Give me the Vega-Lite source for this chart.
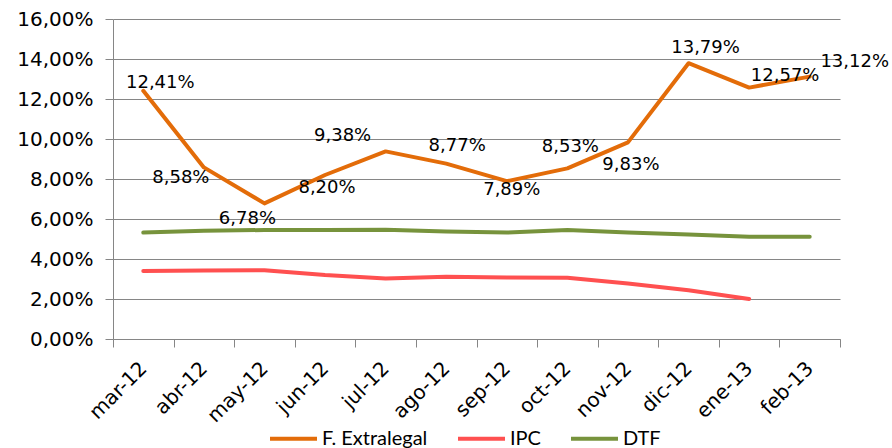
{
  "$schema": "https://vega.github.io/schema/vega-lite/v6.json",
  "width": 727,
  "height": 320,
  "autosize": {"type": "none"},
  "padding": {"left": 113, "top": 19, "right": 52, "bottom": 109},
  "background": "white",
  "config": {
    "locale": {"number": {"decimal": ",", "thousands": ".", "grouping": [3], "currency": ["$", ""]}},
    "view": {"stroke": null},
    "font": "DejaVu Sans"
  },
  "data": {
    "values": [
      {"month": "mar-12", "series": "F. Extralegal", "value": 0.1241},
      {"month": "abr-12", "series": "F. Extralegal", "value": 0.0858},
      {"month": "may-12", "series": "F. Extralegal", "value": 0.0678},
      {"month": "jun-12", "series": "F. Extralegal", "value": 0.0820},
      {"month": "jul-12", "series": "F. Extralegal", "value": 0.0938},
      {"month": "ago-12", "series": "F. Extralegal", "value": 0.0877},
      {"month": "sep-12", "series": "F. Extralegal", "value": 0.0789},
      {"month": "oct-12", "series": "F. Extralegal", "value": 0.0853},
      {"month": "nov-12", "series": "F. Extralegal", "value": 0.0983},
      {"month": "dic-12", "series": "F. Extralegal", "value": 0.1379},
      {"month": "ene-13", "series": "F. Extralegal", "value": 0.1257},
      {"month": "feb-13", "series": "F. Extralegal", "value": 0.1312},
      {"month": "mar-12", "series": "IPC", "value": 0.0340},
      {"month": "abr-12", "series": "IPC", "value": 0.0343},
      {"month": "may-12", "series": "IPC", "value": 0.0344},
      {"month": "jun-12", "series": "IPC", "value": 0.0320},
      {"month": "jul-12", "series": "IPC", "value": 0.0303},
      {"month": "ago-12", "series": "IPC", "value": 0.0311},
      {"month": "sep-12", "series": "IPC", "value": 0.0308},
      {"month": "oct-12", "series": "IPC", "value": 0.0306},
      {"month": "nov-12", "series": "IPC", "value": 0.0277},
      {"month": "dic-12", "series": "IPC", "value": 0.0244},
      {"month": "ene-13", "series": "IPC", "value": 0.0200},
      {"month": "mar-12", "series": "DTF", "value": 0.0532},
      {"month": "abr-12", "series": "DTF", "value": 0.0541},
      {"month": "may-12", "series": "DTF", "value": 0.0545},
      {"month": "jun-12", "series": "DTF", "value": 0.0545},
      {"month": "jul-12", "series": "DTF", "value": 0.0546},
      {"month": "ago-12", "series": "DTF", "value": 0.0538},
      {"month": "sep-12", "series": "DTF", "value": 0.0532},
      {"month": "oct-12", "series": "DTF", "value": 0.0545},
      {"month": "nov-12", "series": "DTF", "value": 0.0533},
      {"month": "dic-12", "series": "DTF", "value": 0.0522},
      {"month": "ene-13", "series": "DTF", "value": 0.0511},
      {"month": "feb-13", "series": "DTF", "value": 0.0511}
    ]
  },
  "encoding": {
    "x": {
      "field": "month", "type": "ordinal",
      "sort": ["mar-12","abr-12","may-12","jun-12","jul-12","ago-12","sep-12","oct-12","nov-12","dic-12","ene-13","feb-13"],
      "scale": {"type": "band", "paddingInner": 0, "paddingOuter": 0},
      "axis": {
        "title": null, "tickBand": "extent", "labelAngle": -45, "labelAlign": "right", "labelBaseline": "middle",
        "labelFont": "DejaVu Sans", "labelFontSize": 20, "labelColor": "black", "labelPadding": 18,
        "tickSize": 8, "tickColor": "#868686", "domainColor": "#868686", "domainWidth": 1, "grid": false
      }
    },
    "y": {
      "field": "value", "type": "quantitative",
      "scale": {"domain": [0, 0.16], "nice": false},
      "axis": {
        "title": null, "format": ".2%", "values": [0,0.02,0.04,0.06,0.08,0.1,0.12,0.14,0.16],
        "labelFont": "DejaVu Sans", "labelFontSize": 20, "labelColor": "black", "labelPadding": 12,
        "tickSize": 8, "tickColor": "#868686", "domainColor": "#868686", "gridColor": "#868686", "gridWidth": 1
      }
    }
  },
  "layer": [
    {
      "mark": {"type": "line", "strokeWidth": 4, "strokeCap": "round", "strokeJoin": "round"},
      "encoding": {
        "color": {
          "field": "series", "type": "nominal",
          "scale": {"domain": ["F. Extralegal", "IPC", "DTF"], "range": ["#E36C09", "#FF5050", "#77933C"]},
          "legend": {
            "title": null, "orient": "none", "direction": "horizontal", "legendX": 155, "legendY": 394,
            "symbolType": "stroke", "symbolSize": 2209, "symbolStrokeWidth": 4,
            "labelFont": "Lato", "labelFontSize": 20, "labelColor": "black", "labelOffset": 3, "columnPadding": 22
          }
        }
      }
    },
    {"transform": [{"filter": "datum.series == 'F. Extralegal' && datum.month == 'mar-12'"}], "mark": {"type": "text", "fontSize": 18, "font": "DejaVu Sans", "dx": 17, "dy": -8}, "encoding": {"text": {"field": "value", "format": ".2%"}}},
    {"transform": [{"filter": "datum.series == 'F. Extralegal' && datum.month == 'abr-12'"}], "mark": {"type": "text", "fontSize": 18, "font": "DejaVu Sans", "dx": -23, "dy": 11}, "encoding": {"text": {"field": "value", "format": ".2%"}}},
    {"transform": [{"filter": "datum.series == 'F. Extralegal' && datum.month == 'may-12'"}], "mark": {"type": "text", "fontSize": 18, "font": "DejaVu Sans", "dx": -17, "dy": 16}, "encoding": {"text": {"field": "value", "format": ".2%"}}},
    {"transform": [{"filter": "datum.series == 'F. Extralegal' && datum.month == 'jun-12'"}], "mark": {"type": "text", "fontSize": 18, "font": "DejaVu Sans", "dx": 2, "dy": 13}, "encoding": {"text": {"field": "value", "format": ".2%"}}},
    {"transform": [{"filter": "datum.series == 'F. Extralegal' && datum.month == 'jul-12'"}], "mark": {"type": "text", "fontSize": 18, "font": "DejaVu Sans", "dx": -43, "dy": -15}, "encoding": {"text": {"field": "value", "format": ".2%"}}},
    {"transform": [{"filter": "datum.series == 'F. Extralegal' && datum.month == 'ago-12'"}], "mark": {"type": "text", "fontSize": 18, "font": "DejaVu Sans", "dx": 11, "dy": -18}, "encoding": {"text": {"field": "value", "format": ".2%"}}},
    {"transform": [{"filter": "datum.series == 'F. Extralegal' && datum.month == 'sep-12'"}], "mark": {"type": "text", "fontSize": 18, "font": "DejaVu Sans", "dx": 5, "dy": 9}, "encoding": {"text": {"field": "value", "format": ".2%"}}},
    {"transform": [{"filter": "datum.series == 'F. Extralegal' && datum.month == 'oct-12'"}], "mark": {"type": "text", "fontSize": 18, "font": "DejaVu Sans", "dx": 3, "dy": -21}, "encoding": {"text": {"field": "value", "format": ".2%"}}},
    {"transform": [{"filter": "datum.series == 'F. Extralegal' && datum.month == 'nov-12'"}], "mark": {"type": "text", "fontSize": 18, "font": "DejaVu Sans", "dx": 3, "dy": 23}, "encoding": {"text": {"field": "value", "format": ".2%"}}},
    {"transform": [{"filter": "datum.series == 'F. Extralegal' && datum.month == 'dic-12'"}], "mark": {"type": "text", "fontSize": 18, "font": "DejaVu Sans", "dx": 17, "dy": -15}, "encoding": {"text": {"field": "value", "format": ".2%"}}},
    {"transform": [{"filter": "datum.series == 'F. Extralegal' && datum.month == 'ene-13'"}], "mark": {"type": "text", "fontSize": 18, "font": "DejaVu Sans", "dx": 36, "dy": -12}, "encoding": {"text": {"field": "value", "format": ".2%"}}},
    {"transform": [{"filter": "datum.series == 'F. Extralegal' && datum.month == 'feb-13'"}], "mark": {"type": "text", "fontSize": 18, "font": "DejaVu Sans", "dx": 45, "dy": -15}, "encoding": {"text": {"field": "value", "format": ".2%"}}}
  ]
}
